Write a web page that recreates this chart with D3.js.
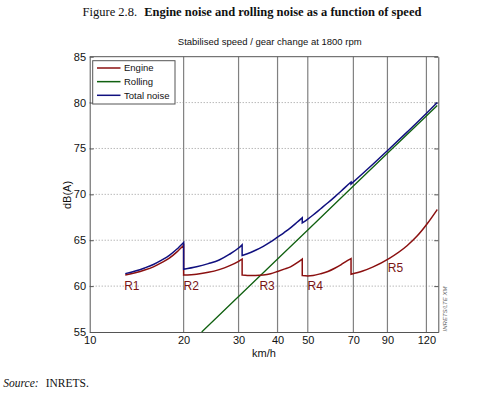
<!DOCTYPE html>
<html>
<head>
<meta charset="utf-8">
<script src="https://cdn.jsdelivr.net/npm/d3@7"></script>
<style>
  body { margin: 0; background: #fff; }
  svg { display: block; font-family: Arial, "Liberation Sans", sans-serif; }
</style>
</head>
<body>
<div id="chart"></div>
<script>
// tick values
const xTicks = [10, 20, 30, 40, 50, 70, 90, 120];
const yTicks = [55, 60, 65, 70, 75, 80, 85];

// engine noise, one array per gear [km/h, dB(A)]
const engineR1 = [[13, 61.2], [14, 61.45], [15, 61.75], [16, 62.1], [17, 62.55], [18, 63.05], [19, 63.7], [20, 64.45]];
const engineR2 = [[20, 61.2], [22, 61.3], [24, 61.5], [26, 61.8], [28, 62.2], [30, 62.7], [30.8, 62.95]];
const engineR3 = [[30.8, 61.2], [32, 61.15], [34, 61.15], [36, 61.2], [38, 61.35], [40, 61.6], [42, 61.85], [44, 62.1], [46, 62.5], [48, 62.95]];
const engineR4 = [[48, 61.15], [50, 61.1], [52, 61.15], [55, 61.35], [58, 61.6], [61, 61.95], [64, 62.35], [66, 62.65], [68.8, 63.0]];
const engineR5 = [[68.8, 61.3], [75, 61.65], [81, 62.1], [91, 63.0], [104, 64.4], [112, 65.45], [121, 66.85], [130, 68.35]];

// total noise, one array per gear
const totalR1 = [[13, 61.36], [14, 61.64], [15, 61.98], [16, 62.36], [17, 62.83], [18, 63.35], [19, 64.01], [20, 64.76]];
const totalR2 = [[20, 61.83], [22, 62.1], [24, 62.45], [26, 62.85], [28, 63.45], [30, 64.15], [30.8, 64.5]];
const totalR3 = [[30.8, 63.34], [32, 63.53], [34, 63.91], [36, 64.34], [38, 64.82], [40, 65.34], [42, 65.84], [44, 66.35], [46, 66.9], [48, 67.45]];
const totalR4 = [[48, 66.89], [50, 67.31], [52, 67.75], [55, 68.43], [58, 69.08], [61, 69.73], [64, 70.37], [66, 70.79], [68.8, 71.34]];
const totalR5 = [[68.8, 71.13], [75, 72.27], [81, 73.31], [91, 74.91], [104, 76.78], [112, 77.83], [121, 78.95], [130, 80.0]];

// rolling noise
const rolling = [[22.85, 55], [30, 58.87], [40, 62.95], [50, 66.12], [70, 70.9], [90, 74.47], [110, 77.32], [130, 79.69]];

// gear labels and where they sit
const gearLabels = ['R1', 'R2', 'R3', 'R4', 'R5'];
const gearLabelPos = [[12.9, 60], [20, 60], [35, 60], [49.9, 60], [90.2, 62]];

const legendNames = ['Engine', 'Rolling', 'Total noise'];

const colors = { engine: '#8b1010', rolling: '#106010', total: '#10107f' };

const W = 500, H = 393;
const plot = { left: 89.7, right: 438.3, top: 56.7, bottom: 332 };

const svg = d3.select('#chart').append('svg')
  .attr('width', W)
  .attr('height', H);

const x = d3.scaleLog().domain([10, 131]).range([plot.left, plot.right]);
const y = d3.scaleLinear().domain([55, 85]).range([plot.bottom, plot.top]);

// title
const title = svg.append('text')
  .attr('x', 252)
  .attr('y', 16)
  .attr('text-anchor', 'middle')
  .style('font-family', '"Liberation Serif", "Times New Roman", serif')
  .style('font-size', '12.5px')
  .attr('fill', '#111');
title.append('tspan').text('Figure 2.8.');
title.append('tspan').attr('dx', 7).style('font-weight', 'bold')
  .text('Engine noise and rolling noise as a function of speed');

// subtitle
svg.append('text')
  .attr('x', 269.7)
  .attr('y', 45)
  .attr('text-anchor', 'middle')
  .style('font-size', '9.5px')
  .attr('fill', '#111')
  .text('Stabilised speed / gear change at 1800 rpm');

// horizontal dotted grid
svg.append('g')
  .selectAll('line')
  .data(yTicks.filter(d => d > 55 && d < 85))
  .enter()
  .append('line')
  .attr('x1', plot.left)
  .attr('x2', plot.right)
  .attr('y1', d => y(d))
  .attr('y2', d => y(d))
  .attr('stroke', '#999')
  .attr('stroke-dasharray', '1,2');

// vertical solid grid
svg.append('g')
  .selectAll('line')
  .data(xTicks.filter(d => d > 10))
  .enter()
  .append('line')
  .attr('x1', d => x(d))
  .attr('x2', d => x(d))
  .attr('y1', plot.top)
  .attr('y2', plot.bottom)
  .attr('stroke', '#808080')
  .attr('stroke-width', 1.2);

// axes
const xAxis = svg.append('g')
  .attr('transform', `translate(0,${plot.bottom})`)
  .call(d3.axisBottom(x).tickValues(xTicks).tickFormat(d3.format('d')).tickSize(0).tickPadding(4));

const yAxis = svg.append('g')
  .attr('transform', `translate(${plot.left},0)`)
  .call(d3.axisLeft(y).tickValues(yTicks).tickSizeInner(-4).tickSizeOuter(0).tickPadding(3.7));

const yAxisRight = svg.append('g')
  .attr('transform', `translate(${plot.right},0)`)
  .call(d3.axisRight(y).tickValues(yTicks).tickSizeInner(-4).tickSizeOuter(0).tickFormat(''));

svg.append('line')
  .attr('x1', plot.left).attr('x2', plot.right)
  .attr('y1', plot.top).attr('y2', plot.top)
  .attr('stroke', '#555');

[xAxis, yAxis, yAxisRight].forEach(a => {
  a.selectAll('path, line').attr('stroke', '#555');
  a.selectAll('text').style('font-size', '11px').attr('fill', '#111').style('font-family', 'Arial, "Liberation Sans", sans-serif');
});

// axis titles
svg.append('text')
  .attr('x', 264)
  .attr('y', 357)
  .attr('text-anchor', 'middle')
  .style('font-size', '11px')
  .attr('fill', '#111')
  .text('km/h');

svg.append('text')
  .attr('transform', 'translate(70.5,195) rotate(-90)')
  .attr('text-anchor', 'middle')
  .style('font-size', '11px')
  .attr('fill', '#111')
  .text('dB(A)');

// curves: each gear smooth, joined by the vertical drop at the gear change
const line = d3.line()
  .x(d => x(d[0]))
  .y(d => y(d[1]))
  .curve(d3.curveMonotoneX);

function gearPath(segs) {
  return segs.map((s, i) => i ? line(s).replace(/^M/, 'L') : line(s)).join('');
}

svg.append('path')
  .attr('d', line.curve(d3.curveLinear)(rolling))
  .attr('fill', 'none')
  .attr('stroke', colors.rolling)
  .attr('stroke-width', 1.3);
line.curve(d3.curveMonotoneX);

svg.append('path')
  .attr('d', gearPath([engineR1, engineR2, engineR3, engineR4, engineR5]))
  .attr('fill', 'none')
  .attr('stroke', colors.engine)
  .attr('stroke-width', 1.5);

svg.append('path')
  .attr('d', gearPath([totalR1, totalR2, totalR3, totalR4, totalR5]))
  .attr('fill', 'none')
  .attr('stroke', colors.total)
  .attr('stroke-width', 1.5);

// gear labels
svg.append('g')
  .selectAll('text')
  .data(gearLabels)
  .enter()
  .append('text')
  .attr('x', (d, i) => x(gearLabelPos[i][0]))
  .attr('y', (d, i) => y(gearLabelPos[i][1]))
  .attr('dy', '0.35em')
  .style('font-size', '12px')
  .attr('fill', '#7a1515')
  .text(d => d);

// legend
const legend = svg.append('g');
legend.append('rect')
  .attr('x', 92.7)
  .attr('y', 60.7)
  .attr('width', 82.3)
  .attr('height', 43.3)
  .attr('fill', '#fff')
  .attr('stroke', '#555');

const legendColors = [colors.engine, colors.rolling, colors.total];
const legendRow = legend.selectAll('g')
  .data(legendNames)
  .enter()
  .append('g')
  .attr('transform', (d, i) => `translate(0,${68 + i * 13.65})`);

legendRow.append('line')
  .attr('x1', 97).attr('x2', 120.5)
  .attr('stroke', (d, i) => legendColors[i])
  .attr('stroke-width', 1.5);

legendRow.append('text')
  .attr('x', 124)
  .attr('dy', '0.35em')
  .style('font-size', '9.5px')
  .attr('fill', '#111')
  .text(d => d);

// watermark
svg.append('text')
  .attr('transform', 'translate(447,309) rotate(-90)')
  .attr('text-anchor', 'middle')
  .style('font-size', '6px')
  .style('font-style', 'italic')
  .attr('fill', '#666')
  .text('INRETS/LTE XM');

// source
const source = svg.append('text')
  .attr('x', 3.3)
  .attr('y', 387)
  .style('font-family', '"Liberation Serif", "Times New Roman", serif')
  .style('font-size', '11.5px')
  .attr('fill', '#111');
source.append('tspan').style('font-style', 'italic').text('Source:');
source.append('tspan').attr('dx', 7).text('INRETS.');
</script>
</body>
</html>
